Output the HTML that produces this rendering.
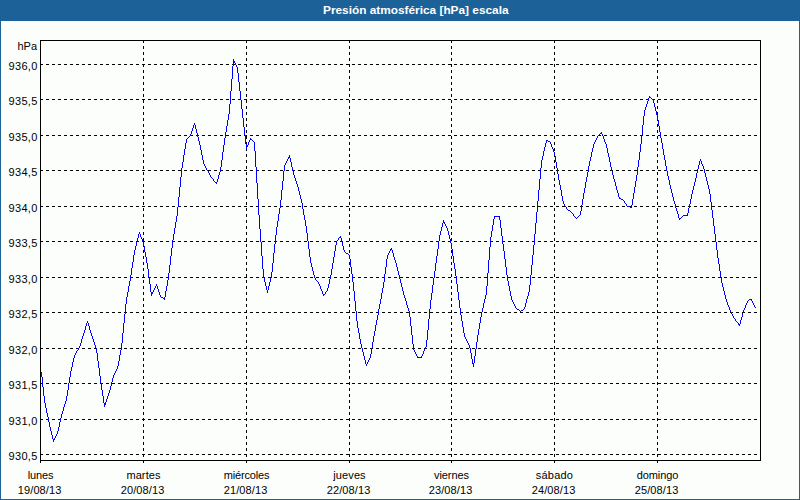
<!DOCTYPE html>
<html><head><meta charset="utf-8"><title>Presión atmosférica</title>
<style>
html,body{margin:0;padding:0;}
body{width:800px;height:500px;overflow:hidden;background:#fcfefb;font-family:"Liberation Sans",sans-serif;font-size:11px;color:#000;position:relative;}
#wrap{position:absolute;left:0;top:0;width:800px;height:500px;box-sizing:border-box;border:1px solid #1c6298;border-top:none;background:#fcfefb;}
#hdr{position:absolute;left:0;top:0;width:800px;height:21px;background:#1c6298;color:#fff;font-weight:bold;font-size:11px;line-height:21px;text-align:center;}
#hdr span{position:absolute;left:323px;top:0;white-space:nowrap;transform-origin:0 0;transform:scaleX(1.076);}
svg{position:absolute;left:0;top:0;}
.yl{position:absolute;right:762.4px;width:60px;text-align:right;letter-spacing:0.3px;line-height:12px;height:12px;white-space:nowrap;}
.xl{position:absolute;width:80px;text-align:center;line-height:12px;height:12px;white-space:nowrap;}
</style></head><body>
<div id="wrap"></div>
<div id="hdr"><span>Presión atmosférica [hPa] escala</span></div>
<svg width="800" height="500" viewBox="0 0 800 500" shape-rendering="crispEdges">
<line x1="40" y1="64.5" x2="760" y2="64.5" stroke="#000" stroke-width="1" stroke-dasharray="3 3"/>
<line x1="40" y1="99.5" x2="760" y2="99.5" stroke="#000" stroke-width="1" stroke-dasharray="3 3"/>
<line x1="40" y1="135.5" x2="760" y2="135.5" stroke="#000" stroke-width="1" stroke-dasharray="3 3"/>
<line x1="40" y1="170.5" x2="760" y2="170.5" stroke="#000" stroke-width="1" stroke-dasharray="3 3"/>
<line x1="40" y1="206.5" x2="760" y2="206.5" stroke="#000" stroke-width="1" stroke-dasharray="3 3"/>
<line x1="40" y1="241.5" x2="760" y2="241.5" stroke="#000" stroke-width="1" stroke-dasharray="3 3"/>
<line x1="40" y1="277.5" x2="760" y2="277.5" stroke="#000" stroke-width="1" stroke-dasharray="3 3"/>
<line x1="40" y1="312.5" x2="760" y2="312.5" stroke="#000" stroke-width="1" stroke-dasharray="3 3"/>
<line x1="40" y1="348.5" x2="760" y2="348.5" stroke="#000" stroke-width="1" stroke-dasharray="3 3"/>
<line x1="40" y1="383.5" x2="760" y2="383.5" stroke="#000" stroke-width="1" stroke-dasharray="3 3"/>
<line x1="40" y1="419.5" x2="760" y2="419.5" stroke="#000" stroke-width="1" stroke-dasharray="3 3"/>
<line x1="40" y1="454.5" x2="760" y2="454.5" stroke="#000" stroke-width="1" stroke-dasharray="3 3"/>
<line x1="143.5" y1="40" x2="143.5" y2="463" stroke="#000" stroke-width="1" stroke-dasharray="3 3"/>
<line x1="246.5" y1="40" x2="246.5" y2="463" stroke="#000" stroke-width="1" stroke-dasharray="3 3"/>
<line x1="349.5" y1="40" x2="349.5" y2="463" stroke="#000" stroke-width="1" stroke-dasharray="3 3"/>
<line x1="451.5" y1="40" x2="451.5" y2="463" stroke="#000" stroke-width="1" stroke-dasharray="3 3"/>
<line x1="554.5" y1="40" x2="554.5" y2="463" stroke="#000" stroke-width="1" stroke-dasharray="3 3"/>
<line x1="657.5" y1="40" x2="657.5" y2="463" stroke="#000" stroke-width="1" stroke-dasharray="3 3"/>
<rect x="40.5" y="40.5" width="720" height="420" fill="none" stroke="#000" stroke-width="1"/>
<line x1="40.5" y1="460" x2="40.5" y2="463" stroke="#000" stroke-width="1"/>
<path d="M41 372h1v5h-1zM42 377h1v10h-1zM43 387h1v9h-1zM44 396h1v7h-1zM45 403h1v5h-1zM46 408h1v5h-1zM47 413h1v4h-1zM48 417h1v5h-1zM49 422h1v5h-1zM50 427h1v4h-1zM51 431h1v4h-1zM52 435h1v4h-1zM53 439h1v3h-1zM54 438h1v2h-1zM55 436h1v2h-1zM56 434h1v2h-1zM57 431h1v3h-1zM58 427h1v4h-1zM59 422h1v5h-1zM60 418h1v4h-1zM61 414h1v4h-1zM62 411h1v3h-1zM63 407h1v4h-1zM64 404h1v3h-1zM65 401h1v3h-1zM66 396h1v5h-1zM67 390h1v6h-1zM68 383h1v7h-1zM69 377h1v6h-1zM70 371h1v6h-1zM71 367h1v4h-1zM72 362h1v5h-1zM73 358h1v4h-1zM74 355h1v3h-1zM75 353h1v2h-1zM76 351h1v2h-1zM77 350h1v1h-1zM78 348h1v2h-1zM79 346h1v2h-1zM80 343h1v3h-1zM81 339h1v4h-1zM82 336h1v3h-1zM83 333h1v3h-1zM84 330h1v3h-1zM85 326h1v4h-1zM86 323h1v3h-1zM87 321h1v2h-1zM88 323h1v3h-1zM89 326h1v4h-1zM90 330h1v3h-1zM91 333h1v3h-1zM92 336h1v3h-1zM93 339h1v3h-1zM94 342h1v3h-1zM95 345h1v3h-1zM96 348h1v5h-1zM97 353h1v8h-1zM98 361h1v7h-1zM99 368h1v8h-1zM100 376h1v7h-1zM101 383h1v7h-1zM102 390h1v6h-1zM103 396h1v7h-1zM104 403h1v4h-1zM105 402h1v3h-1zM106 399h1v3h-1zM107 396h1v3h-1zM108 393h1v3h-1zM109 390h1v3h-1zM110 386h1v4h-1zM111 382h1v4h-1zM112 378h1v4h-1zM113 375h1v3h-1zM114 373h1v2h-1zM115 371h1v2h-1zM116 369h1v2h-1zM117 366h1v3h-1zM118 361h1v5h-1zM119 355h1v6h-1zM120 350h1v5h-1zM121 343h1v7h-1zM122 333h1v10h-1zM123 323h1v10h-1zM124 314h1v9h-1zM125 304h1v10h-1zM126 297h1v7h-1zM127 292h1v5h-1zM128 286h1v6h-1zM129 281h1v5h-1zM130 275h1v6h-1zM131 268h1v7h-1zM132 262h1v6h-1zM133 255h1v7h-1zM134 250h1v5h-1zM135 246h1v4h-1zM136 242h1v4h-1zM137 238h1v4h-1zM138 234h1v4h-1zM139 232h1v2h-1zM140 234h1v3h-1zM141 237h1v2h-1zM142 239h1v3h-1zM143 242h1v4h-1zM144 246h1v6h-1zM145 252h1v5h-1zM146 257h1v6h-1zM147 263h1v6h-1zM148 269h1v8h-1zM149 277h1v7h-1zM150 284h1v8h-1zM151 292h1v4h-1zM152 292h1v2h-1zM153 290h1v2h-1zM154 288h1v2h-1zM155 286h1v2h-1zM156 284h1v2h-1zM157 286h1v3h-1zM158 289h1v3h-1zM159 292h1v3h-1zM160 295h1v2h-1zM161 297h1v1h-1zM162 297h1v1h-1zM163 298h1v1h-1zM164 297h1v3h-1zM165 291h1v6h-1zM166 286h1v5h-1zM167 280h1v6h-1zM168 273h1v7h-1zM169 265h1v8h-1zM170 256h1v9h-1zM171 248h1v8h-1zM172 240h1v8h-1zM173 234h1v6h-1zM174 228h1v6h-1zM175 222h1v6h-1zM176 216h1v6h-1zM177 207h1v9h-1zM178 197h1v10h-1zM179 187h1v10h-1zM180 177h1v10h-1zM181 168h1v9h-1zM182 162h1v6h-1zM183 155h1v7h-1zM184 149h1v6h-1zM185 143h1v6h-1zM186 139h1v4h-1zM187 138h1v1h-1zM188 137h1v1h-1zM189 136h1v1h-1zM190 134h1v2h-1zM191 131h1v3h-1zM192 128h1v3h-1zM193 125h1v3h-1zM194 123h1v2h-1zM195 125h1v4h-1zM196 129h1v4h-1zM197 133h1v4h-1zM198 137h1v4h-1zM199 141h1v4h-1zM200 145h1v5h-1zM201 150h1v5h-1zM202 155h1v5h-1zM203 160h1v4h-1zM204 164h1v2h-1zM205 166h1v2h-1zM206 168h1v2h-1zM207 170h1v1h-1zM208 171h1v2h-1zM209 173h1v2h-1zM210 175h1v2h-1zM211 177h1v1h-1zM212 178h1v1h-1zM213 179h1v2h-1zM214 181h1v1h-1zM215 182h1v1h-1zM216 182h1v2h-1zM217 179h1v3h-1zM218 175h1v4h-1zM219 172h1v3h-1zM220 167h1v5h-1zM221 160h1v7h-1zM222 152h1v8h-1zM223 145h1v7h-1zM224 138h1v7h-1zM225 132h1v6h-1zM226 126h1v6h-1zM227 120h1v6h-1zM228 114h1v6h-1zM229 104h1v10h-1zM230 91h1v13h-1zM231 79h1v12h-1zM232 66h1v13h-1zM233 59h1v7h-1zM234 61h1v2h-1zM235 63h1v2h-1zM236 65h1v2h-1zM237 67h1v6h-1zM238 73h1v9h-1zM239 82h1v9h-1zM240 91h1v9h-1zM241 100h1v9h-1zM242 109h1v9h-1zM243 118h1v9h-1zM244 127h1v8h-1zM245 135h1v9h-1zM246 144h1v5h-1zM247 145h1v2h-1zM248 142h1v3h-1zM249 140h1v2h-1zM250 138h1v2h-1zM251 139h1v1h-1zM252 140h1v1h-1zM253 141h1v1h-1zM254 142h1v9h-1zM255 151h1v16h-1zM256 167h1v16h-1zM257 183h1v16h-1zM258 199h1v16h-1zM259 215h1v14h-1zM260 229h1v13h-1zM261 242h1v14h-1zM262 256h1v13h-1zM263 269h1v9h-1zM264 278h1v4h-1zM265 282h1v4h-1zM266 286h1v4h-1zM267 290h1v3h-1zM268 286h1v4h-1zM269 282h1v4h-1zM270 278h1v4h-1zM271 272h1v6h-1zM272 263h1v9h-1zM273 253h1v10h-1zM274 244h1v9h-1zM275 235h1v9h-1zM276 227h1v8h-1zM277 221h1v6h-1zM278 214h1v7h-1zM279 208h1v6h-1zM280 200h1v8h-1zM281 190h1v10h-1zM282 181h1v9h-1zM283 171h1v10h-1zM284 165h1v6h-1zM285 163h1v2h-1zM286 161h1v2h-1zM287 159h1v2h-1zM288 157h1v2h-1zM289 155h1v3h-1zM290 158h1v4h-1zM291 162h1v5h-1zM292 167h1v4h-1zM293 171h1v4h-1zM294 175h1v3h-1zM295 178h1v3h-1zM296 181h1v3h-1zM297 184h1v3h-1zM298 187h1v4h-1zM299 191h1v4h-1zM300 195h1v4h-1zM301 199h1v4h-1zM302 203h1v6h-1zM303 209h1v6h-1zM304 215h1v5h-1zM305 220h1v6h-1zM306 226h1v7h-1zM307 233h1v8h-1zM308 241h1v8h-1zM309 249h1v8h-1zM310 257h1v6h-1zM311 263h1v4h-1zM312 267h1v4h-1zM313 271h1v4h-1zM314 275h1v3h-1zM315 278h1v2h-1zM316 280h1v1h-1zM317 281h1v1h-1zM318 282h1v2h-1zM319 284h1v2h-1zM320 286h1v3h-1zM321 289h1v2h-1zM322 291h1v3h-1zM323 294h1v2h-1zM324 294h1v1h-1zM325 292h1v2h-1zM326 291h1v1h-1zM327 288h1v3h-1zM328 284h1v4h-1zM329 279h1v5h-1zM330 275h1v4h-1zM331 269h1v6h-1zM332 263h1v6h-1zM333 257h1v6h-1zM334 251h1v6h-1zM335 245h1v6h-1zM336 241h1v4h-1zM337 240h1v1h-1zM338 238h1v2h-1zM339 237h1v1h-1zM340 236h1v2h-1zM341 238h1v4h-1zM342 242h1v4h-1zM343 246h1v4h-1zM344 250h1v2h-1zM345 252h1v1h-1zM346 253h1v1h-1zM347 253h1v1h-1zM348 254h1v1h-1zM349 255h1v4h-1zM350 259h1v8h-1zM351 267h1v7h-1zM352 274h1v8h-1zM353 282h1v9h-1zM354 291h1v10h-1zM355 301h1v10h-1zM356 311h1v10h-1zM357 321h1v7h-1zM358 328h1v5h-1zM359 333h1v6h-1zM360 339h1v5h-1zM361 344h1v4h-1zM362 348h1v4h-1zM363 352h1v4h-1zM364 356h1v4h-1zM365 360h1v4h-1zM366 364h1v2h-1zM367 362h1v2h-1zM368 360h1v2h-1zM369 358h1v2h-1zM370 354h1v4h-1zM371 348h1v6h-1zM372 342h1v6h-1zM373 336h1v6h-1zM374 331h1v5h-1zM375 325h1v6h-1zM376 320h1v5h-1zM377 315h1v5h-1zM378 309h1v6h-1zM379 304h1v5h-1zM380 299h1v5h-1zM381 293h1v6h-1zM382 288h1v5h-1zM383 282h1v6h-1zM384 274h1v8h-1zM385 267h1v7h-1zM386 259h1v8h-1zM387 255h1v4h-1zM388 253h1v2h-1zM389 251h1v2h-1zM390 249h1v2h-1zM391 248h1v2h-1zM392 250h1v3h-1zM393 253h1v4h-1zM394 257h1v3h-1zM395 260h1v3h-1zM396 263h1v4h-1zM397 267h1v4h-1zM398 271h1v4h-1zM399 275h1v4h-1zM400 279h1v4h-1zM401 283h1v4h-1zM402 287h1v4h-1zM403 291h1v4h-1zM404 295h1v3h-1zM405 298h1v3h-1zM406 301h1v4h-1zM407 305h1v3h-1zM408 308h1v3h-1zM409 311h1v6h-1zM410 317h1v9h-1zM411 326h1v9h-1zM412 335h1v9h-1zM413 344h1v6h-1zM414 350h1v2h-1zM415 352h1v2h-1zM416 354h1v2h-1zM417 356h1v2h-1zM418 357h1v1h-1zM419 357h1v1h-1zM420 357h1v1h-1zM421 356h1v2h-1zM422 354h1v2h-1zM423 351h1v3h-1zM424 349h1v2h-1zM425 347h1v2h-1zM426 340h1v7h-1zM427 330h1v10h-1zM428 319h1v11h-1zM429 309h1v10h-1zM430 300h1v9h-1zM431 293h1v7h-1zM432 285h1v8h-1zM433 278h1v7h-1zM434 271h1v7h-1zM435 263h1v8h-1zM436 256h1v7h-1zM437 249h1v7h-1zM438 241h1v8h-1zM439 235h1v6h-1zM440 231h1v4h-1zM441 227h1v4h-1zM442 223h1v4h-1zM443 220h1v3h-1zM444 222h1v2h-1zM445 224h1v2h-1zM446 226h1v2h-1zM447 228h1v3h-1zM448 231h1v4h-1zM449 235h1v4h-1zM450 239h1v4h-1zM451 243h1v6h-1zM452 249h1v7h-1zM453 256h1v7h-1zM454 263h1v6h-1zM455 269h1v7h-1zM456 276h1v8h-1zM457 284h1v8h-1zM458 292h1v8h-1zM459 300h1v8h-1zM460 308h1v7h-1zM461 315h1v6h-1zM462 321h1v6h-1zM463 327h1v6h-1zM464 333h1v4h-1zM465 337h1v2h-1zM466 339h1v2h-1zM467 341h1v2h-1zM468 343h1v2h-1zM469 345h1v3h-1zM470 348h1v5h-1zM471 353h1v6h-1zM472 359h1v5h-1zM473 363h1v4h-1zM474 356h1v7h-1zM475 349h1v7h-1zM476 342h1v7h-1zM477 335h1v7h-1zM478 329h1v6h-1zM479 323h1v6h-1zM480 317h1v6h-1zM481 312h1v5h-1zM482 308h1v4h-1zM483 303h1v5h-1zM484 299h1v4h-1zM485 295h1v4h-1zM486 286h1v9h-1zM487 273h1v13h-1zM488 260h1v13h-1zM489 247h1v13h-1zM490 237h1v10h-1zM491 231h1v6h-1zM492 225h1v6h-1zM493 219h1v6h-1zM494 216h1v3h-1zM495 216h1v1h-1zM496 216h1v1h-1zM497 216h1v1h-1zM498 216h1v1h-1zM499 216h1v4h-1zM500 220h1v8h-1zM501 228h1v8h-1zM502 236h1v8h-1zM503 244h1v7h-1zM504 251h1v8h-1zM505 259h1v8h-1zM506 267h1v8h-1zM507 275h1v6h-1zM508 281h1v5h-1zM509 286h1v5h-1zM510 291h1v5h-1zM511 296h1v4h-1zM512 300h1v2h-1zM513 302h1v2h-1zM514 304h1v2h-1zM515 306h1v2h-1zM516 308h1v1h-1zM517 309h1v1h-1zM518 309h1v1h-1zM519 310h1v1h-1zM520 311h1v1h-1zM521 310h1v1h-1zM522 310h1v1h-1zM523 309h1v1h-1zM524 307h1v2h-1zM525 303h1v4h-1zM526 299h1v4h-1zM527 296h1v3h-1zM528 292h1v4h-1zM529 285h1v7h-1zM530 275h1v10h-1zM531 265h1v10h-1zM532 255h1v10h-1zM533 245h1v10h-1zM534 234h1v11h-1zM535 223h1v11h-1zM536 212h1v11h-1zM537 201h1v11h-1zM538 190h1v11h-1zM539 179h1v11h-1zM540 168h1v11h-1zM541 160h1v8h-1zM542 156h1v4h-1zM543 151h1v5h-1zM544 147h1v4h-1zM545 143h1v4h-1zM546 140h1v3h-1zM547 140h1v1h-1zM548 141h1v1h-1zM549 141h1v1h-1zM550 142h1v2h-1zM551 144h1v3h-1zM552 147h1v2h-1zM553 149h1v3h-1zM554 152h1v4h-1zM555 156h1v6h-1zM556 162h1v6h-1zM557 168h1v6h-1zM558 174h1v6h-1zM559 180h1v5h-1zM560 185h1v5h-1zM561 190h1v6h-1zM562 196h1v5h-1zM563 201h1v3h-1zM564 204h1v2h-1zM565 206h1v1h-1zM566 207h1v2h-1zM567 209h1v1h-1zM568 210h1v1h-1zM569 210h1v1h-1zM570 211h1v1h-1zM571 212h1v1h-1zM572 213h1v1h-1zM573 214h1v2h-1zM574 216h1v1h-1zM575 217h1v1h-1zM576 218h1v1h-1zM577 217h1v1h-1zM578 216h1v1h-1zM579 215h1v1h-1zM580 211h1v4h-1zM581 205h1v6h-1zM582 199h1v6h-1zM583 193h1v6h-1zM584 188h1v5h-1zM585 182h1v6h-1zM586 177h1v5h-1zM587 172h1v5h-1zM588 166h1v6h-1zM589 161h1v5h-1zM590 157h1v4h-1zM591 152h1v5h-1zM592 148h1v4h-1zM593 144h1v4h-1zM594 142h1v2h-1zM595 140h1v2h-1zM596 138h1v2h-1zM597 136h1v2h-1zM598 135h1v1h-1zM599 134h1v1h-1zM600 133h1v1h-1zM601 132h1v2h-1zM602 134h1v2h-1zM603 136h1v3h-1zM604 139h1v3h-1zM605 142h1v2h-1zM606 144h1v4h-1zM607 148h1v5h-1zM608 153h1v4h-1zM609 157h1v5h-1zM610 162h1v5h-1zM611 167h1v4h-1zM612 171h1v4h-1zM613 175h1v4h-1zM614 179h1v3h-1zM615 182h1v4h-1zM616 186h1v4h-1zM617 190h1v3h-1zM618 193h1v4h-1zM619 197h1v2h-1zM620 198h1v1h-1zM621 199h1v1h-1zM622 199h1v1h-1zM623 200h1v1h-1zM624 201h1v2h-1zM625 203h1v1h-1zM626 204h1v2h-1zM627 206h1v1h-1zM628 206h1v1h-1zM629 206h1v1h-1zM630 207h1v1h-1zM631 205h1v3h-1zM632 199h1v6h-1zM633 193h1v6h-1zM634 187h1v6h-1zM635 181h1v6h-1zM636 175h1v6h-1zM637 167h1v8h-1zM638 160h1v7h-1zM639 152h1v8h-1zM640 144h1v8h-1zM641 135h1v9h-1zM642 125h1v10h-1zM643 116h1v9h-1zM644 110h1v6h-1zM645 107h1v3h-1zM646 104h1v3h-1zM647 101h1v3h-1zM648 98h1v3h-1zM649 96h1v2h-1zM650 97h1v1h-1zM651 98h1v1h-1zM652 99h1v1h-1zM653 100h1v3h-1zM654 103h1v4h-1zM655 107h1v4h-1zM656 111h1v4h-1zM657 115h1v5h-1zM658 120h1v6h-1zM659 126h1v6h-1zM660 132h1v6h-1zM661 138h1v5h-1zM662 143h1v6h-1zM663 149h1v6h-1zM664 155h1v5h-1zM665 160h1v6h-1zM666 166h1v5h-1zM667 171h1v5h-1zM668 176h1v4h-1zM669 180h1v5h-1zM670 185h1v4h-1zM671 189h1v4h-1zM672 193h1v4h-1zM673 197h1v4h-1zM674 201h1v3h-1zM675 204h1v4h-1zM676 208h1v3h-1zM677 211h1v3h-1zM678 214h1v4h-1zM679 218h1v2h-1zM680 218h1v1h-1zM681 217h1v1h-1zM682 216h1v1h-1zM683 215h1v1h-1zM684 215h1v1h-1zM685 215h1v1h-1zM686 215h1v1h-1zM687 213h1v3h-1zM688 208h1v5h-1zM689 204h1v4h-1zM690 199h1v5h-1zM691 194h1v5h-1zM692 190h1v4h-1zM693 186h1v4h-1zM694 182h1v4h-1zM695 178h1v4h-1zM696 173h1v5h-1zM697 169h1v4h-1zM698 165h1v4h-1zM699 161h1v4h-1zM700 159h1v2h-1zM701 161h1v3h-1zM702 164h1v2h-1zM703 166h1v3h-1zM704 169h1v4h-1zM705 173h1v4h-1zM706 177h1v4h-1zM707 181h1v4h-1zM708 185h1v4h-1zM709 189h1v5h-1zM710 194h1v8h-1zM711 202h1v8h-1zM712 210h1v8h-1zM713 218h1v8h-1zM714 226h1v8h-1zM715 234h1v8h-1zM716 242h1v8h-1zM717 250h1v8h-1zM718 258h1v6h-1zM719 264h1v7h-1zM720 271h1v6h-1zM721 277h1v6h-1zM722 283h1v4h-1zM723 287h1v4h-1zM724 291h1v4h-1zM725 295h1v4h-1zM726 299h1v3h-1zM727 302h1v3h-1zM728 305h1v2h-1zM729 307h1v3h-1zM730 310h1v2h-1zM731 312h1v2h-1zM732 314h1v2h-1zM733 316h1v2h-1zM734 318h1v1h-1zM735 319h1v2h-1zM736 321h1v1h-1zM737 322h1v1h-1zM738 323h1v2h-1zM739 324h1v2h-1zM740 320h1v4h-1zM741 317h1v3h-1zM742 313h1v4h-1zM743 310h1v3h-1zM744 308h1v2h-1zM745 305h1v3h-1zM746 303h1v2h-1zM747 301h1v2h-1zM748 300h1v1h-1zM749 299h1v1h-1zM750 299h1v1h-1zM751 299h1v2h-1zM752 301h1v2h-1zM753 303h1v2h-1zM754 305h1v2h-1zM755 307h1v1h-1z" fill="#0000ff" stroke="none"/>
</svg>
<div class="yl" style="top:40px;right:763px;letter-spacing:0">hPa</div>
<div class="yl" style="top:60px">936,0</div>
<div class="yl" style="top:95px">935,5</div>
<div class="yl" style="top:131px">935,0</div>
<div class="yl" style="top:166px">934,5</div>
<div class="yl" style="top:202px">934,0</div>
<div class="yl" style="top:237px">933,5</div>
<div class="yl" style="top:273px">933,0</div>
<div class="yl" style="top:308px">932,5</div>
<div class="yl" style="top:344px">932,0</div>
<div class="yl" style="top:379px">931,5</div>
<div class="yl" style="top:415px">931,0</div>
<div class="yl" style="top:450px">930,5</div>
<div class="xl" style="left:0.5px;top:469px;letter-spacing:-0.15px">lunes</div>
<div class="xl" style="left:-0.4px;top:484px;letter-spacing:0.1px">19/08/13</div>
<div class="xl" style="left:103.5px;top:469px;letter-spacing:0.1px">martes</div>
<div class="xl" style="left:102.6px;top:484px;letter-spacing:0.1px">20/08/13</div>
<div class="xl" style="left:206.5px;top:469px;letter-spacing:-0.15px">miércoles</div>
<div class="xl" style="left:205.6px;top:484px;letter-spacing:0.1px">21/08/13</div>
<div class="xl" style="left:309.5px;top:469px;letter-spacing:0.1px">jueves</div>
<div class="xl" style="left:308.6px;top:484px;letter-spacing:0.1px">22/08/13</div>
<div class="xl" style="left:411.5px;top:469px;letter-spacing:-0.1px">viernes</div>
<div class="xl" style="left:410.6px;top:484px;letter-spacing:0.1px">23/08/13</div>
<div class="xl" style="left:514.5px;top:469px;letter-spacing:0.2px">sábado</div>
<div class="xl" style="left:513.6px;top:484px;letter-spacing:0.1px">24/08/13</div>
<div class="xl" style="left:617.5px;top:469px;letter-spacing:-0.1px">domingo</div>
<div class="xl" style="left:616.6px;top:484px;letter-spacing:0.1px">25/08/13</div>
</body></html>
